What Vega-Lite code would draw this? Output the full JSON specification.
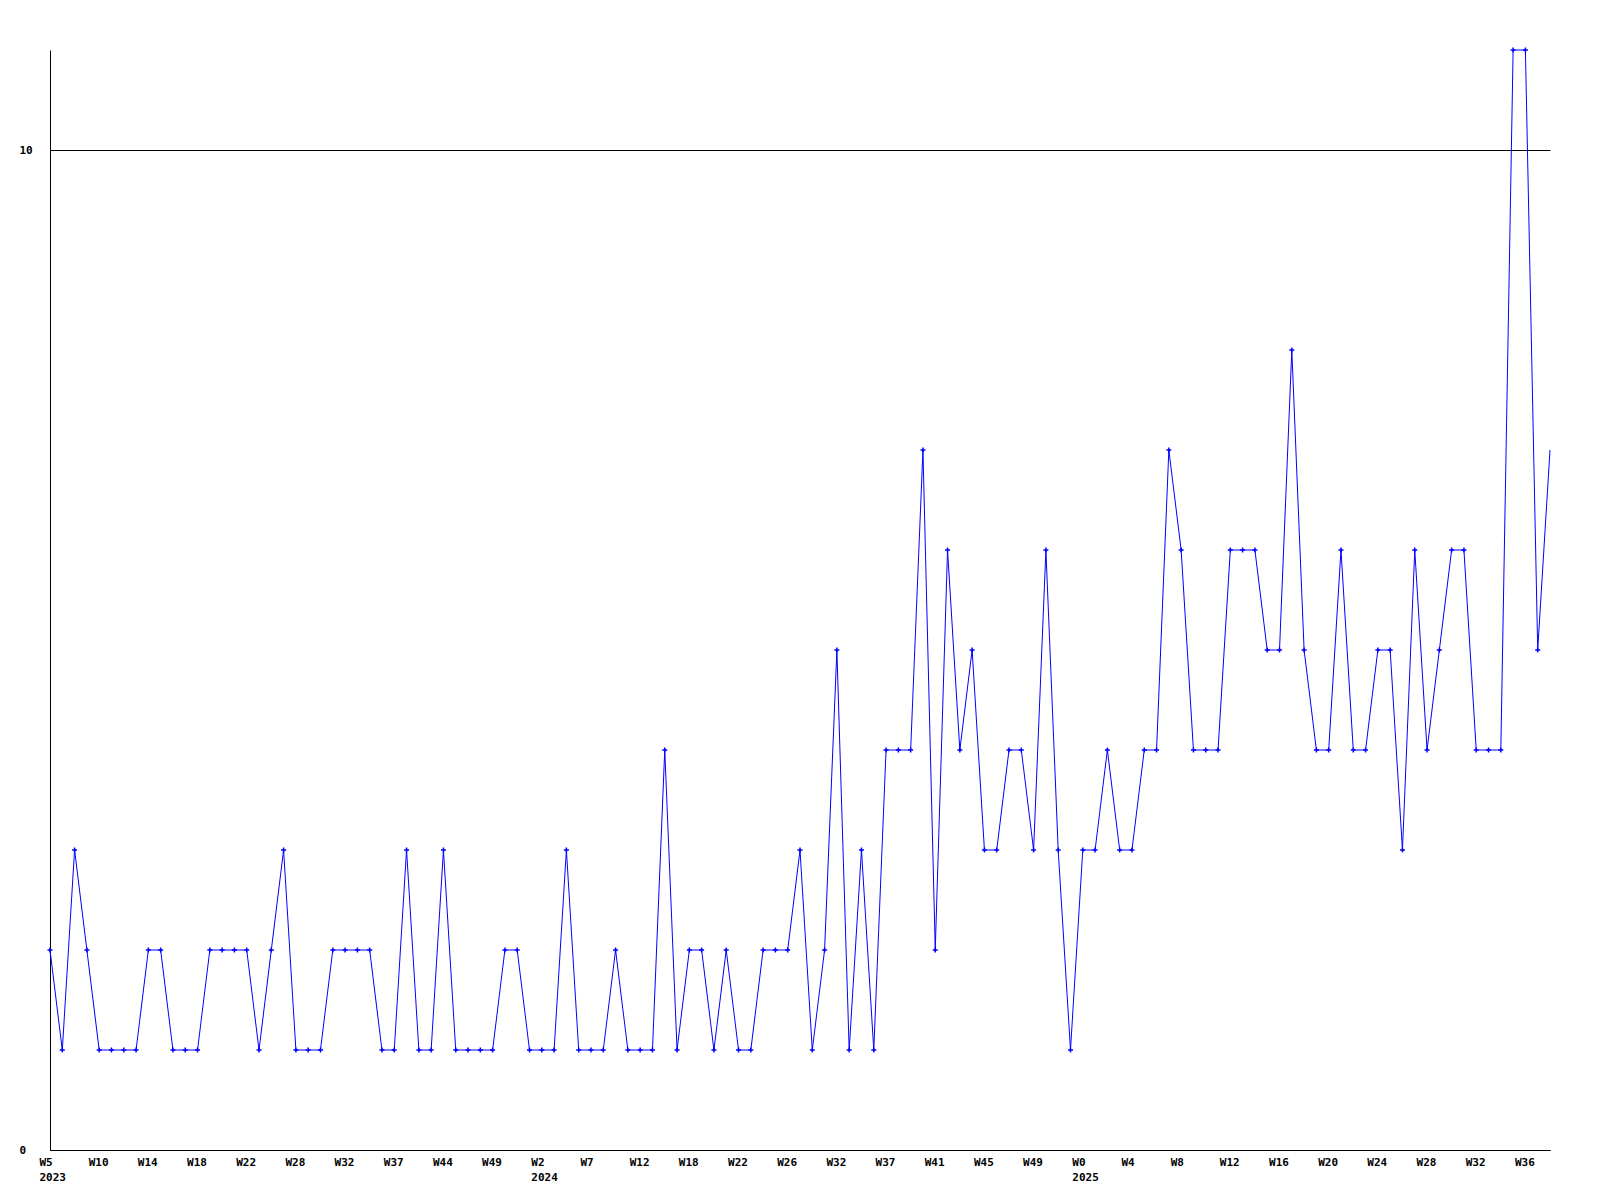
{
  "$schema": "https://vega.github.io/schema/vega-lite/v6.json",
  "width": 1500,
  "height": 1100,
  "autosize": {"type": "none"},
  "padding": {"left": 50, "top": 50, "right": 50, "bottom": 50},
  "background": "white",
  "config": {
    "view": {"stroke": null},
    "axis": {
      "labelFont": "DejaVu Sans Mono",
      "labelFontWeight": "bold",
      "labelFontSize": 11,
      "labelColor": "black",
      "domainColor": "black",
      "domainWidth": 1,
      "ticks": false,
      "tickSize": 0,
      "title": null,
      "labelOverlap": false,
      "labelFlush": false,
      "labelBound": false
    }
  },
  "data": {
    "values": [
      {"i":0,"v":2},{"i":1,"v":1},{"i":2,"v":3},{"i":3,"v":2},{"i":4,"v":1},{"i":5,"v":1},{"i":6,"v":1},{"i":7,"v":1},{"i":8,"v":2},{"i":9,"v":2},
      {"i":10,"v":1},{"i":11,"v":1},{"i":12,"v":1},{"i":13,"v":2},{"i":14,"v":2},{"i":15,"v":2},{"i":16,"v":2},{"i":17,"v":1},{"i":18,"v":2},{"i":19,"v":3},
      {"i":20,"v":1},{"i":21,"v":1},{"i":22,"v":1},{"i":23,"v":2},{"i":24,"v":2},{"i":25,"v":2},{"i":26,"v":2},{"i":27,"v":1},{"i":28,"v":1},{"i":29,"v":3},
      {"i":30,"v":1},{"i":31,"v":1},{"i":32,"v":3},{"i":33,"v":1},{"i":34,"v":1},{"i":35,"v":1},{"i":36,"v":1},{"i":37,"v":2},{"i":38,"v":2},{"i":39,"v":1},
      {"i":40,"v":1},{"i":41,"v":1},{"i":42,"v":3},{"i":43,"v":1},{"i":44,"v":1},{"i":45,"v":1},{"i":46,"v":2},{"i":47,"v":1},{"i":48,"v":1},{"i":49,"v":1},
      {"i":50,"v":4},{"i":51,"v":1},{"i":52,"v":2},{"i":53,"v":2},{"i":54,"v":1},{"i":55,"v":2},{"i":56,"v":1},{"i":57,"v":1},{"i":58,"v":2},{"i":59,"v":2},
      {"i":60,"v":2},{"i":61,"v":3},{"i":62,"v":1},{"i":63,"v":2},{"i":64,"v":5},{"i":65,"v":1},{"i":66,"v":3},{"i":67,"v":1},{"i":68,"v":4},{"i":69,"v":4},
      {"i":70,"v":4},{"i":71,"v":7},{"i":72,"v":2},{"i":73,"v":6},{"i":74,"v":4},{"i":75,"v":5},{"i":76,"v":3},{"i":77,"v":3},{"i":78,"v":4},{"i":79,"v":4},
      {"i":80,"v":3},{"i":81,"v":6},{"i":82,"v":3},{"i":83,"v":1},{"i":84,"v":3},{"i":85,"v":3},{"i":86,"v":4},{"i":87,"v":3},{"i":88,"v":3},{"i":89,"v":4},
      {"i":90,"v":4},{"i":91,"v":7},{"i":92,"v":6},{"i":93,"v":4},{"i":94,"v":4},{"i":95,"v":4},{"i":96,"v":6},{"i":97,"v":6},{"i":98,"v":6},{"i":99,"v":5},
      {"i":100,"v":5},{"i":101,"v":8},{"i":102,"v":5},{"i":103,"v":4},{"i":104,"v":4},{"i":105,"v":6},{"i":106,"v":4},{"i":107,"v":4},{"i":108,"v":5},{"i":109,"v":5},
      {"i":110,"v":3},{"i":111,"v":6},{"i":112,"v":4},{"i":113,"v":5},{"i":114,"v":6},{"i":115,"v":6},{"i":116,"v":4},{"i":117,"v":4},{"i":118,"v":4},{"i":119,"v":11},
      {"i":120,"v":11},{"i":121,"v":5},{"i":122,"v":7}
    ]
  },
  "encoding": {
    "x": {
      "field": "i",
      "type": "quantitative",
      "scale": {"domain": [0, 122], "nice": false, "zero": false},
      "axis": {
        "values": [0,4,8,12,16,20,24,28,32,36,40,44,48,52,56,60,64,68,72,76,80,84,88,92,96,100,104,108,112,116,120],
        "grid": false,
        "labelAlign": "left",
        "labelBaseline": "top",
        "labelOffset": -11,
        "labelPadding": 6,
        "labelLineHeight": 15,
        "labelExpr": "datum.value == 0 ? ['W5','2023'] : datum.value == 40 ? ['W2','2024'] : datum.value == 84 ? ['W0','2025'] : ['W5','W10','W14','W18','W22','W28','W32','W37','W44','W49','W2','W7','W12','W18','W22','W26','W32','W37','W41','W45','W49','W0','W4','W8','W12','W16','W20','W24','W28','W32','W36'][round(datum.value/4)]"
      }
    },
    "y": {
      "field": "v",
      "type": "quantitative",
      "scale": {"domain": [0, 11], "nice": false, "zero": true},
      "axis": {
        "values": [0, 10],
        "grid": true,
        "gridColor": "black",
        "gridOpacity": 1,
        "gridWidth": 1,
        "labelAlign": "left",
        "labelBaseline": "middle",
        "labelPadding": 31
      }
    }
  },
  "layer": [
    {
      "mark": {"type": "line", "color": "#0000ff", "strokeWidth": 1, "interpolate": "linear"}
    },
    {
      "transform": [{"filter": "datum.i < 122"}],
      "mark": {
        "type": "point",
        "shape": "M-1,0H1M0,-1V1",
        "size": 25,
        "filled": false,
        "stroke": "#0000ff",
        "strokeWidth": 1.5,
        "opacity": 1
      }
    }
  ]
}
